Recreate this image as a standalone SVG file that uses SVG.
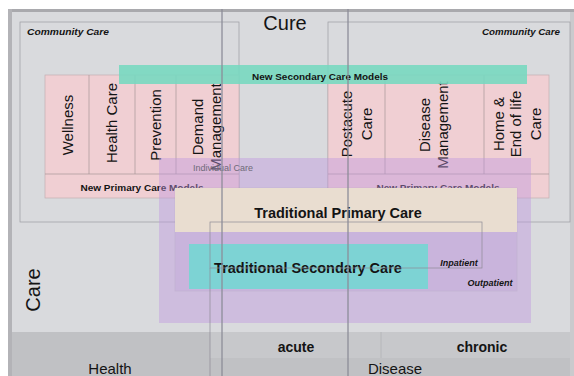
<svg xmlns="http://www.w3.org/2000/svg" width="574" height="376" viewBox="0 0 574 376">
<style>
 text { font-family: "Liberation Sans", Arial, sans-serif; fill:#141414; }
 .box { stroke:#9c9ca2; stroke-width:0.7; fill:none }
 .pink { fill:#f0cfd3; stroke:#c4aeb2; stroke-width:0.7 }
 .div { stroke:#a8969a; stroke-width:0.7 }
 .v { font-size:15px; text-anchor:middle; dominant-baseline:central }
 .small { font-size:9px; font-weight:bold; text-anchor:middle }
 .cc { font-size:9px; font-weight:bold; font-style:italic }
 .big { font-size:20px; text-anchor:middle }
 .title { font-size:14.5px; font-weight:bold; text-anchor:middle }
 .axis { font-size:14px; font-weight:bold; text-anchor:middle }
 .axis2 { font-size:15px; text-anchor:middle }
 .vline { stroke:#8c8c98; stroke-width:1.8; opacity:0.7 }
 .thin { stroke:#8e8a96; stroke-width:0.7; fill:none }
</style>
<rect x="0" y="0" width="574" height="376" fill="#ffffff"/>
<g id="frame">
 <rect x="8" y="9" width="566" height="367" fill="#d9dadd"/>
 <rect x="8" y="9" width="566" height="3" fill="#a9a9ad"/>
 <rect x="8" y="9" width="4" height="367" fill="#b3b3b7"/>
 <rect x="570" y="12" width="4" height="364" fill="#cacacd"/>
 <text class="big" x="285" y="30">Cure</text>
 <text class="big" transform="translate(33,290) rotate(-90)" dominant-baseline="central">Care</text>
</g>
<g id="axis-band">
 <rect x="12" y="332" width="558" height="44" fill="#c0c1c4"/>
 <rect x="210" y="332" width="360" height="26" fill="#c7c8cb"/>
 <line x1="381" y1="332" x2="381" y2="358" stroke="#b2b2b6" stroke-width="0.8"/>
 <text class="axis" x="296" y="352">acute</text>
 <text class="axis" x="482" y="352">chronic</text>
 <text class="axis2" x="110" y="374">Health</text>
 <text class="axis2" x="395" y="374">Disease</text>
</g>
<g id="community-care-left">
 <rect class="box" x="20" y="22" width="219" height="200"/>
 <text class="cc" x="27" y="35" textLength="82" lengthAdjust="spacingAndGlyphs">Community Care</text>
</g>
<g id="community-care-right">
 <rect class="box" x="328" y="22" width="242" height="200"/>
 <text class="cc" x="482" y="35" textLength="78" lengthAdjust="spacingAndGlyphs">Community Care</text>
</g>
<g id="new-primary-left">
 <rect class="pink" x="45" y="75" width="194" height="123"/>
 <line class="div" x1="89" y1="75" x2="89" y2="174"/>
 <line class="div" x1="135" y1="75" x2="135" y2="174"/>
 <line class="div" x1="176" y1="75" x2="176" y2="174"/>
 <line class="div" x1="45" y1="174" x2="239" y2="174"/>
 <text class="v" transform="translate(67,125) rotate(-90)">Wellness</text>
 <text class="v" transform="translate(111,123) rotate(-90)">Health Care</text>
 <text class="v" transform="translate(155,125) rotate(-90)">Prevention</text>
 <text class="v" transform="translate(197,127) rotate(-90)">Demand</text>
 <text class="v" transform="translate(215,127) rotate(-90)">Management</text>
 <text class="small" x="142" y="191" textLength="123" lengthAdjust="spacingAndGlyphs">New Primary Care Models</text>
</g>
<g id="new-primary-right">
 <rect class="pink" x="328" y="75" width="221" height="123"/>
 <line class="div" x1="385" y1="75" x2="385" y2="174"/>
 <line class="div" x1="484" y1="75" x2="484" y2="174"/>
 <line class="div" x1="328" y1="174" x2="549" y2="174"/>
 <text class="v" transform="translate(346,124) rotate(-90)">Postacute</text>
 <text class="v" transform="translate(366,124) rotate(-90)">Care</text>
 <text class="v" transform="translate(424,125) rotate(-90)">Disease</text>
 <text class="v" transform="translate(442,125) rotate(-90)">Management</text>
 <text class="v" transform="translate(498,124) rotate(-90)">Home &amp;</text>
 <text class="v" transform="translate(515,124) rotate(-90)">End of life</text>
 <text class="v" transform="translate(535,124) rotate(-90)">Care</text>
 <text class="small" x="438" y="191" textLength="123" lengthAdjust="spacingAndGlyphs">New Primary Care Models</text>
</g>
<g id="new-secondary">
 <rect x="119" y="65" width="408" height="19" fill="#78d8c0" opacity="0.9"/>
 <text class="small" x="320" y="80" textLength="136" lengthAdjust="spacingAndGlyphs">New Secondary Care Models</text>
</g>
<g id="individual-care">
 <rect x="159" y="158" width="372" height="165" fill="#be96e1" opacity="0.42"/>
 <text x="223" y="171" font-size="9" text-anchor="middle" style="fill:#6e6a78">Individual Care</text>
</g>
<g id="outpatient">
 <rect x="175" y="188" width="342" height="103" fill="#b48cd8" opacity="0.18" stroke="#8e8a96" stroke-width="0.7"/>
 <text x="490" y="286" font-size="9" font-weight="bold" font-style="italic" text-anchor="middle">Outpatient</text>
</g>
<g id="traditional-primary">
 <rect x="175" y="188" width="342" height="44" fill="#e9ddd0"/>
 <text class="title" x="338" y="218">Traditional Primary Care</text>
</g>
<g id="traditional-secondary">
 <rect x="189" y="244" width="239" height="45" fill="#7dd3d4"/>
 <text class="title" x="308" y="273">Traditional Secondary Care</text>
</g>
<g id="inpatient">
 <rect class="thin" x="210" y="222" width="272" height="46"/>
 <text x="459" y="266" font-size="9" font-weight="bold" font-style="italic" text-anchor="middle">Inpatient</text>
</g>
<g id="connectors">
 <line class="thin" x1="210" y1="268" x2="210" y2="376"/>
 <line class="vline" x1="222" y1="9" x2="222" y2="376"/>
 <line class="vline" x1="348" y1="9" x2="348" y2="376"/>
</g>
</svg>
